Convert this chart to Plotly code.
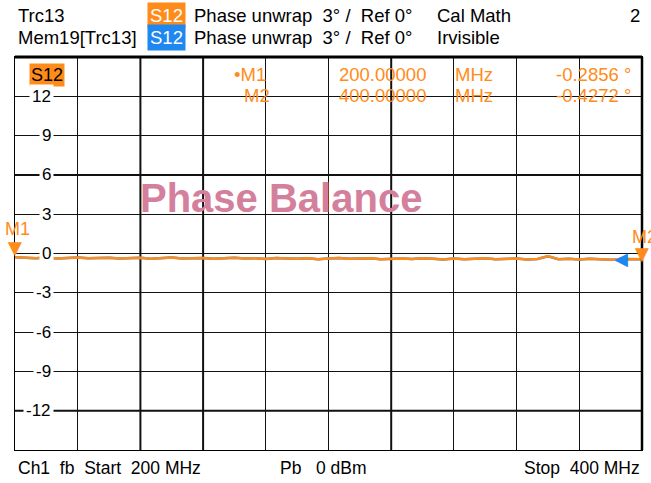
import numpy as np
import plotly.graph_objects as go

# ---- data ----
freq_start, freq_stop = 200, 400
phase_trc13 = [-0.29, -0.33, -0.36, -0.31, -0.38, -0.34, -0.30, -0.37, -0.35, -0.32,
               -0.39, -0.36, -0.33, -0.40, -0.35, -0.31, -0.38, -0.36, -0.34, -0.41,
               -0.37, -0.33, -0.39, -0.36, -0.42, -0.35, -0.38, -0.40, -0.36, -0.43,
               -0.38, -0.34, -0.41, -0.39, -0.37, -0.44, -0.40, -0.38, -0.42, -0.36,
               -0.41, -0.45, -0.39, -0.43, -0.40, -0.37, -0.44, -0.41, -0.38, -0.46,
               -0.42, -0.20, -0.44, -0.40, -0.45, -0.41, -0.43, -0.47, -0.42, -0.44,
               -0.43]
phase_mem19 = [-0.29, -0.33, -0.36, -0.31, -0.38, -0.34, -0.30, -0.37, -0.35, -0.32,
               -0.39, -0.36, -0.33, -0.40, -0.35, -0.31, -0.38, -0.36, -0.34, -0.41,
               -0.37, -0.33, -0.39, -0.36, -0.42, -0.35, -0.38, -0.40, -0.36, -0.43,
               -0.38, -0.34, -0.41, -0.39, -0.37, -0.44, -0.40, -0.38, -0.42, -0.36,
               -0.41, -0.45, -0.39, -0.43, -0.40, -0.37, -0.44, -0.41, -0.38, -0.46,
               -0.42, -0.21, -0.44, -0.40, -0.45, -0.41, -0.43, -0.47, -0.42, -0.44,
               -0.43]
freqs = np.linspace(freq_start, freq_stop, len(phase_trc13))
y_ticks = [12, 9, 6, 3, 0, -3, -6, -9, -12]
m1_freq, m1_val = 200, -0.2856
m2_freq, m2_val = 400, -0.4272

ORANGE = "#FF8C1A"
BLUE = "#1E88F0"
PINK = "#D4809C"
FONT = "Liberation Sans, Arial, sans-serif"
BOLD = "Liberation Sans, Arial, sans-serif"

W, H = 651, 483
L, R, T, B = 15, 9, 57, 33
pw, ph = W - L - R, H - T - B

def px(x):
    return (x - L) / pw

def py(y):
    return (H - B - y) / ph

fig = go.Figure()
fig.add_trace(go.Scatter(x=freqs, y=phase_mem19, mode="lines",
                         line=dict(color=BLUE, width=2.5), hoverinfo="skip"))
fig.add_trace(go.Scatter(x=freqs, y=phase_trc13, mode="lines",
                         line=dict(color=ORANGE, width=2.5), hoverinfo="skip"))

ann = []
def text(x, y, s, color="black", size=18.5, xanchor="left", bg=None, pad=1, **kw):
    d = dict(x=px(x), y=py(y), xref="paper", yref="paper", text=s, showarrow=False,
             xanchor=xanchor, yanchor="middle",
             font=dict(family=FONT, size=size, color=color))
    if bg:
        d["bgcolor"] = bg
        d["borderpad"] = pad
    d.update(kw)
    ann.append(d)

# header
text(16, 15, "Trc13")
text(147, 15, "S12", color="white", bg=ORANGE, pad=2)
text(192, 15, "Phase unwrap  3° /  Ref 0°")
text(435, 15, "Cal Math")
text(642, 15, "2", xanchor="right")
text(16, 38, "Mem19[Trc13]")
text(147, 38, "S12", color="white", bg=BLUE, pad=2)
text(192, 38, "Phase unwrap  3° /  Ref 0°")
text(435, 38, "Irvisible")

# footer
text(16, 468, "Ch1  fb  Start  200 MHz", size=17.5)
text(278, 468, "Pb   0 dBm", size=17.5)
text(642, 468, "Stop  400 MHz", xanchor="right", size=17.5)

# in-plot trace label
text(29, 75, "S12", color="black", size=18, bg=ORANGE, pad=1)

# marker readout
text(232, 74, "•M1", color=ORANGE)
text(242, 95, "M2", color=ORANGE)
text(428, 74, f"{m1_freq:.5f}", color=ORANGE, xanchor="right")
text(428, 95, f"{m2_freq:.5f}", color=ORANGE, xanchor="right")
text(453, 74, "MHz", color=ORANGE)
text(453, 95, "MHz", color=ORANGE)
text(633, 74, f"{m1_val:.4f} °", color=ORANGE, xanchor="right")
text(633, 95, f"{m2_val:.4f} °", color=ORANGE, xanchor="right")

# Phase Balance title
ann.append(dict(x=px(281), y=py(198), xref="paper", yref="paper", text="<b>Phase Balance</b>",
                showarrow=False, xanchor="center", yanchor="middle",
                font=dict(family=BOLD, size=40, color=PINK)))

# y tick labels inside plot
for v in y_ticks:
    ann.append(dict(x=px(54), xref="paper", y=v, yref="y", text=str(v), showarrow=False,
                    xanchor="right", yanchor="middle", bgcolor="white", borderpad=2,
                    font=dict(family=FONT, size=17, color="black")))

# markers
ann.append(dict(x=m1_freq, y=m1_val, xref="x", yref="y", text="▼", showarrow=False,
                xanchor="center", yanchor="bottom", yshift=-6,
                font=dict(family=BOLD, size=24, color=ORANGE)))
ann.append(dict(x=m1_freq, y=m1_val, xref="x", yref="y", text="M1", showarrow=False,
                xanchor="center", yanchor="bottom", yshift=16, xshift=2,
                font=dict(family=FONT, size=18, color=ORANGE)))
ann.append(dict(x=m2_freq, y=m2_val, xref="x", yref="y", text="▼", showarrow=False,
                xanchor="center", yanchor="bottom", yshift=-10,
                font=dict(family=BOLD, size=24, color=ORANGE)))
ann.append(dict(x=m2_freq, y=m2_val, xref="x", yref="y", text="M2", showarrow=False,
                xanchor="left", yanchor="bottom", yshift=10, xshift=-12,
                font=dict(family=FONT, size=18, color=ORANGE)))
ann.append(dict(x=m2_freq, y=m2_val, xref="x", yref="y", text="◀", showarrow=False,
                xanchor="right", yanchor="middle", xshift=-12, yshift=0,
                font=dict(family=BOLD, size=18, color=BLUE)))

shapes = []
for xv in [240, 260, 320]:
    shapes.append(dict(type="line", x0=xv, x1=xv, y0=0, y1=1, xref="x", yref="paper",
                       line=dict(color="#111111", width=2), layer="below"))
for yv in [6, -12]:
    shapes.append(dict(type="line", x0=0, x1=1, y0=yv, y1=yv, xref="paper", yref="y",
                       line=dict(color="#111111", width=2), layer="below"))
shapes.append(dict(type="line", x0=0, x1=1, y0=1, y1=1, xref="paper", yref="paper",
                   line=dict(color="black", width=3)))
shapes.append(dict(type="line", x0=1, x1=1, y0=0, y1=1, xref="paper", yref="paper",
                   line=dict(color="black", width=2.5)))

fig.update_layout(
    width=W, height=H, margin=dict(l=L, r=R, t=T, b=B),
    paper_bgcolor="white", plot_bgcolor="white", showlegend=False,
    annotations=ann, shapes=shapes,
    xaxis=dict(range=[freq_start, freq_stop], dtick=20, tick0=200, showgrid=True,
               gridcolor="#111111", gridwidth=1, showticklabels=False, zeroline=False,
               showline=True, linecolor="black", linewidth=1, mirror=True, ticks=""),
    yaxis=dict(range=[-15, 15], dtick=3, tick0=0, showgrid=True,
               gridcolor="#111111", gridwidth=1, showticklabels=False, zeroline=False,
               showline=True, linecolor="black", linewidth=1, mirror=True, ticks=""),
)
fig.write_html("out.html", config={"displayModeBar": False},
               post_script="document.body.style.margin='0';document.body.style.overflow='hidden';")
